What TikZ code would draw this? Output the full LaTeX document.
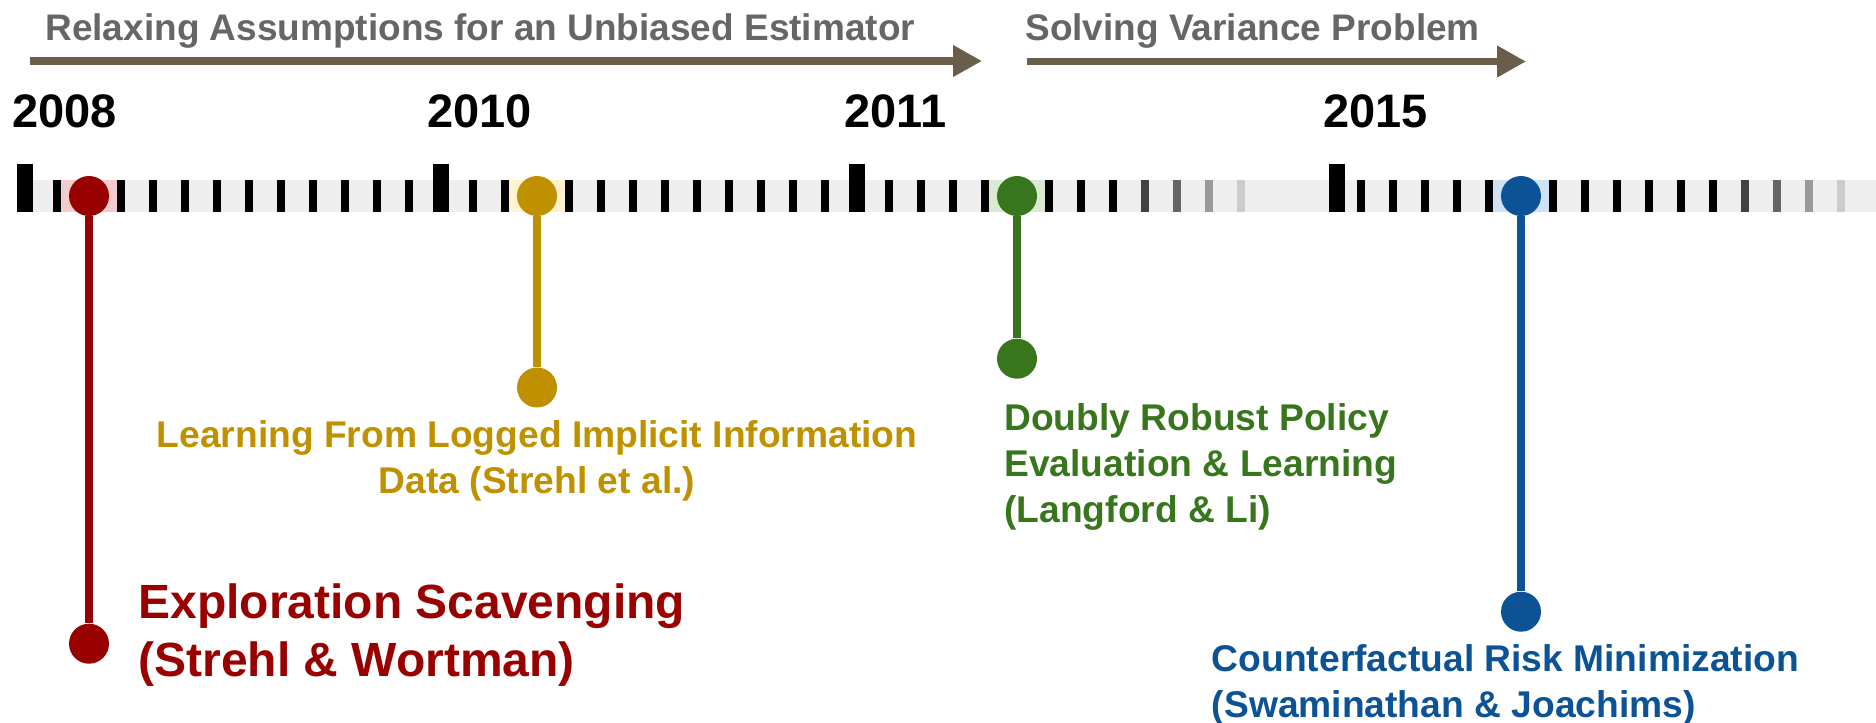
\documentclass[tikz,border=0pt]{standalone}
\usepackage{fontspec}
\setmainfont{Liberation Sans}
\usetikzlibrary{arrows.meta}
\definecolor{redpin}{HTML}{990000}
\definecolor{goldpin}{HTML}{BF9000}
\definecolor{greenpin}{HTML}{38761D}
\definecolor{bluepin}{HTML}{0B5394}
\definecolor{redlight}{HTML}{F4CCCC}
\definecolor{goldlight}{HTML}{FFF2CC}
\definecolor{greenlight}{HTML}{D9EAD3}
\definecolor{bluelight}{HTML}{CFE2F3}
\definecolor{arrowbrown}{HTML}{6A5E4A}
\definecolor{headgray}{HTML}{666666}
\definecolor{bandgray}{HTML}{EEEEEE}
\begin{document}
\begin{tikzpicture}[x=0.5pt, y=-0.5pt, >={Triangle[length=14.5pt, width=15pt]},
  every node/.style={inner sep=0pt},
  pin/.style={circle, minimum size=20pt},
  stem/.style={line width=4.15pt},
  phase/.style={arrowbrown, line width=3.75pt, ->},
  phaselabel/.style={anchor=base west, text=headgray, font=\fontsize{18.5}{22}\bfseries\selectfont},
  year/.style={anchor=base west, font=\fontsize{23.5}{28}\bfseries\selectfont},
  paper/.style={font=\fontsize{18.6}{23}\bfseries\selectfont}]
\useasboundingbox (0,0) rectangle (1876,723);

% phases
\node[phaselabel] (relax) at (45,40.7) {Relaxing Assumptions for an Unbiased Estimator};
\node[phaselabel] (variance) at (1025,40.7) {Solving Variance Problem};
\coordinate (relaxs) at (30,61);
\coordinate (relaxe) at (982,61);
\coordinate (variances) at (1027,61.5);
\coordinate (variancee) at (1526,61.5);
\draw[phase] (relaxs) -- (relaxe);
\draw[phase] (variances) -- (variancee);

% years
\node[year] (y2008) at (12,127) {2008};
\node[year] (y2010) at (427,127) {2010};
\node[year] (y2011) at (844,127) {2011};
\node[year] (y2015) at (1323,127) {2015};

% time line
\fill[bandgray] (17,180) rectangle (1876,212);
\fill[redlight] (61,180) rectangle (117,212);
\fill[goldlight] (509,180) rectangle (565,212);
\fill[greenlight] (989,180) rectangle (1045,212);
\fill[bluelight] (1493,180) rectangle (1549,212);
\foreach \x in {25,441,857,1337}
  \fill ({\x-7.75},164) rectangle ({\x+7.75},212);
\foreach \k in {0,2,3,...,11}
  \fill ({57+32*\k-4},180) rectangle ++(8,32);
\foreach \k in {0,1,3,4,...,11}
  \fill ({473+32*\k-4},180) rectangle ++(8,32);
\foreach \k in {0,1,2,3,5,6,7}
  \fill ({889+32*\k-4},180) rectangle ++(8,32);
\foreach \k in {0,1,2,3,4,6,7,...,11}
  \fill ({1361+32*\k-4},180) rectangle ++(8,32);
\foreach \k/\c in {0/434343,1/666666,2/999999,3/CCCCCC}{
  \definecolor{fade}{HTML}{\c}
  \fill[fade] ({1145+32*\k-4},180) rectangle ++(8,32);
  \fill[fade] ({1745+32*\k-4},180) rectangle ++(8,32);
}

% pins
\node[pin, fill=redpin] (p2008) at (89,196) {};
\node[pin, fill=redpin] (q2008) at (89,643.7) {};
\node[pin, fill=goldpin] (p2010) at (537,196) {};
\node[pin, fill=goldpin] (q2010) at (537,387.5) {};
\node[pin, fill=greenpin] (p2011) at (1017,196) {};
\node[pin, fill=greenpin] (q2011) at (1017,358.7) {};
\node[pin, fill=bluepin] (p2015) at (1521,196) {};
\node[pin, fill=bluepin] (q2015) at (1521,611.7) {};
\draw[stem, redpin] (p2008) -- (q2008);
\draw[stem, goldpin] (p2010) -- (q2010);
\draw[stem, greenpin] (p2011) -- (q2011);
\draw[stem, bluepin] (p2015) -- (q2015);

% papers (base = last line)
\node[anchor=base west, align=left, text=redpin, font=\fontsize{24}{28.85}\bfseries\selectfont] (scav) at (138,676) {Exploration Scavenging\\(Strehl \& Wortman)};
\node[paper, anchor=base, align=center, text=goldpin] (logged) at (537,493.3) {Learning From Logged Implicit Information\\Data (Strehl et al.)};
\node[paper, anchor=base west, align=left, text=greenpin] (robust) at (1004,522.4) {Doubly Robust Policy\\Evaluation \& Learning\\(Langford \& Li)};
\node[paper, anchor=base west, align=left, text=bluepin] (crm) at (1211.5,717.7) {Counterfactual Risk Minimization\\(Swaminathan \& Joachims)};
\end{tikzpicture}
\end{document}
